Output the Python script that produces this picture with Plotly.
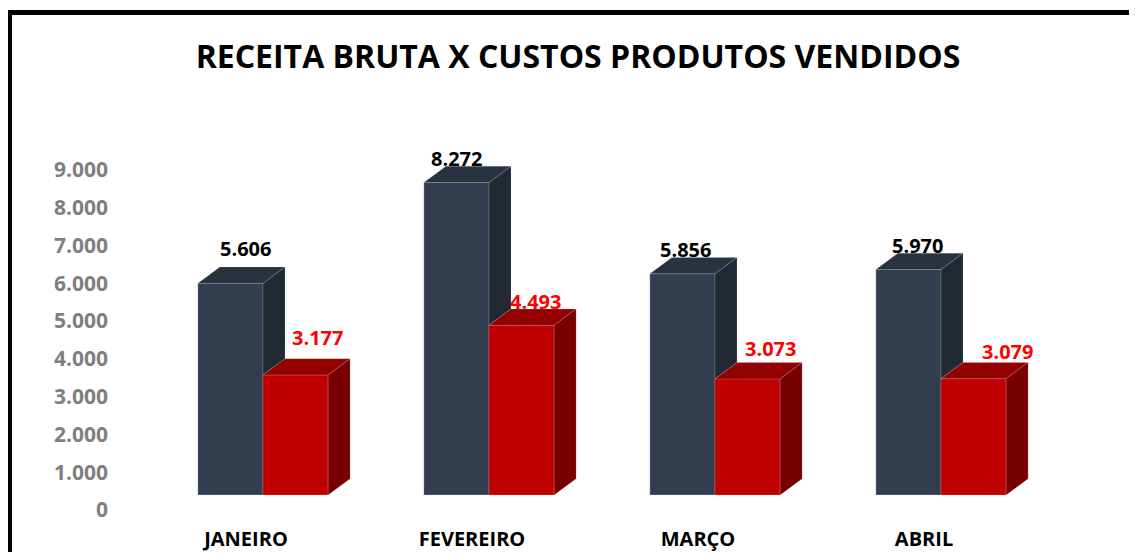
import plotly.graph_objects as go

months = ["JANEIRO", "FEVEREIRO", "MARÇO", "ABRIL"]
receita_bruta = [5606, 8272, 5856, 5970]
custos_vendidos = [3177, 4493, 3073, 3079]
y_ticks = [0, 1000, 2000, 3000, 4000, 5000, 6000, 7000, 8000, 9000]

# label nudges in px (labels were dragged by hand in the original sheet)
receita_label_dx = [15, 0, 3, 9]
receita_label_dy = [35, 24, 24, 24]
custos_label_dx = [22, 14, 23, 34]
custos_label_dy = [37, 24, 30, 27]

PAGE_PAD = 8                       # html body margin around the figure
W, H = 1137 - 2 * PAGE_PAD, 560 - 2 * PAGE_PAD
M_L, M_T = 150 - PAGE_PAD, 155 - PAGE_PAD
PLOT_W, PLOT_H = 904, 340
M_R = W - M_L - PLOT_W
M_B = H - M_T - PLOT_H
Y_MAX = 9000

BAR_W = 0.288                      # width of each front face (x units)
DX = 22 / PLOT_W * 4               # depth offset, x units
DY = 16.3 / PLOT_H * Y_MAX         # depth offset, value units

DARK = dict(front="#323E4F", top="#29323F", side="#212933")
RED = dict(front="#C00000", top="#920000", side="#780000")


def fmt(v):
    return f"{v:,}".replace(",", ".")


def poly_trace(xs, ys, color):
    return go.Scatter(x=xs, y=ys, mode="lines", fill="toself", fillcolor=color,
                      line=dict(width=0.6, color="rgba(190,195,205,0.35)"),
                      hoverinfo="skip", showlegend=False)


def top_face(lefts, vals):
    xs, ys = [], []
    for x0, v in zip(lefts, vals):
        xs += [x0, x0 + BAR_W, x0 + BAR_W + DX, x0 + DX, x0, None]
        ys += [v, v, v + DY, v + DY, v, None]
    return xs, ys


def side_face(lefts, vals, floors):
    xs, ys = [], []
    for x0, v, f in zip(lefts, vals, floors):
        x1 = x0 + BAR_W
        xs += [x1, x1 + DX, x1 + DX, x1, x1, None]
        ys += [f, f + DY, v + DY, v, f, None]
    return xs, ys


idx = list(range(len(months)))
dark_left = [i - BAR_W for i in idx]
red_left = [float(i) for i in idx]

fig = go.Figure()

fig.add_trace(go.Bar(x=idx, y=receita_bruta, width=BAR_W, offset=-BAR_W,
                     marker=dict(color=DARK["front"],
                                 line=dict(width=0.6, color="rgba(190,195,205,0.5)")),
                     name="Receita Bruta", showlegend=False))
fig.add_trace(go.Bar(x=idx, y=custos_vendidos, width=BAR_W, offset=0,
                     marker=dict(color=RED["front"],
                                 line=dict(width=0.6, color="rgba(230,150,150,0.5)")),
                     name="Custos Produtos Vendidos", showlegend=False))

# 3D faces: dark side only shows above the red block next to it
xs, ys = side_face(dark_left, receita_bruta, custos_vendidos)
fig.add_trace(poly_trace(xs, ys, DARK["side"]))
xs, ys = top_face(dark_left, receita_bruta)
fig.add_trace(poly_trace(xs, ys, DARK["top"]))
xs, ys = top_face(red_left, custos_vendidos)
fig.add_trace(poly_trace(xs, ys, RED["top"]))
xs, ys = side_face(red_left, custos_vendidos, [0] * len(idx))
fig.add_trace(poly_trace(xs, ys, RED["side"]))

# value labels
for i, (rb, cv) in enumerate(zip(receita_bruta, custos_vendidos)):
    fig.add_annotation(x=i - BAR_W / 2, y=rb, text=fmt(rb), showarrow=False,
                       xshift=receita_label_dx[i], yshift=receita_label_dy[i],
                       yanchor="middle",
                       font=dict(family="Open Sans", size=20, color="black", weight="bold"))
    fig.add_annotation(x=i + BAR_W / 2, y=cv, text=fmt(cv), showarrow=False,
                       xshift=custos_label_dx[i], yshift=custos_label_dy[i],
                       yanchor="middle",
                       font=dict(family="Open Sans", size=20, color="#FF0000", weight="bold"))

# chart frame (thick black border, cut off at right/bottom)
frame_left, frame_top = 9.5 - PAGE_PAD, 12.5 - PAGE_PAD
fig.add_shape(type="rect", xref="paper", yref="paper",
              x0=(frame_left - M_L) / PLOT_W, x1=(W + 60 - M_L) / PLOT_W,
              y0=(H - M_B - H - 60) / PLOT_H, y1=(H - M_B - frame_top) / PLOT_H,
              line=dict(color="black", width=5), fillcolor="rgba(0,0,0,0)",
              layer="above")

fig.update_layout(
    width=W, height=H,
    margin=dict(l=M_L, r=M_R, t=M_T, b=M_B, autoexpand=False),
    paper_bgcolor="white", plot_bgcolor="white",
    separators=",.",
    barmode="overlay",
    title=dict(text="<b>RECEITA BRUTA X CUSTOS PRODUTOS VENDIDOS</b>",
               xref="container", yref="container",
               x=(578 - PAGE_PAD) / W, y=1 - (57 - PAGE_PAD) / H,
               xanchor="center", yanchor="middle",
               font=dict(family="Open Sans", size=32, color="black")),
    xaxis=dict(range=[-0.5, 3.5], tickvals=idx, ticktext=months, automargin=False,
               showgrid=False, zeroline=False, showline=False, ticks="",
               ticklabelshift=-17, ticklabelstandoff=30,
               tickfont=dict(family="Open Sans", size=20, color="black", weight="bold")),
    yaxis=dict(range=[0, Y_MAX], tickvals=y_ticks, tickformat=",.0f", automargin=False,
               showgrid=False, zeroline=False, showline=False, ticks="",
               ticklabelshift=15, ticklabelstandoff=41,
               tickfont=dict(family="Open Sans", size=21, color="#7F7F7F", weight="bold")),
)

fig.write_html("out.html")
